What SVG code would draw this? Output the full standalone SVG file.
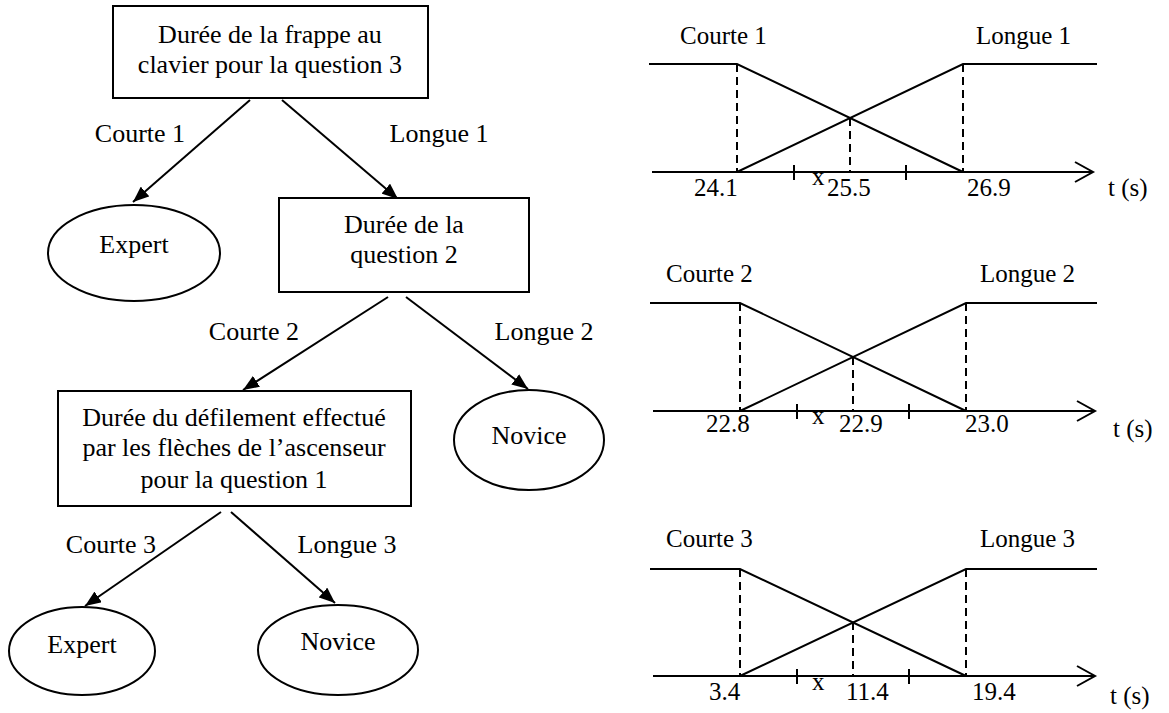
<svg xmlns="http://www.w3.org/2000/svg" width="1169" height="713" viewBox="0 0 1169 713">
  <style>
    text { font-family: 'Liberation Serif', 'Times New Roman', serif; fill: #000; }
    .t { font-size: 26px; text-anchor: middle; }
    .c { font-size: 25px; }
    .box { fill: #fff; stroke: #000; stroke-width: 2; }
    .edge { stroke: #000; stroke-width: 2; fill: none; marker-end: url(#arrow); }
    .ln { stroke: #000; stroke-width: 2; fill: none; }
    .dash { stroke: #000; stroke-width: 2; fill: none; stroke-dasharray: 8 5; }
  </style>
  <defs>
    <marker id="arrow" viewBox="0 0 16 13" refX="16" refY="6.5" markerWidth="16" markerHeight="13" markerUnits="userSpaceOnUse" orient="auto">
      <path d="M0,0 L16,6.5 L0,13 Z" fill="#000"/>
    </marker>
  </defs>
  <rect width="1169" height="713" fill="#fff"/>

  <!-- decision tree: connectors -->
  <g id="connectors">
    <line class="edge" x1="250" y1="100" x2="133" y2="202"/>
    <line class="edge" x1="282" y1="100" x2="398" y2="199"/>
    <line class="edge" x1="388" y1="297" x2="243" y2="390"/>
    <line class="edge" x1="406" y1="297" x2="528" y2="389"/>
    <line class="edge" x1="221" y1="512" x2="85" y2="606"/>
    <line class="edge" x1="231" y1="512" x2="335" y2="603"/>
    <text class="t" x="140" y="142">Courte 1</text>
    <text class="t" x="439" y="142">Longue 1</text>
    <text class="t" x="254" y="340">Courte 2</text>
    <text class="t" x="544" y="340">Longue 2</text>
    <text class="t" x="111" y="553">Courte 3</text>
    <text class="t" x="347" y="553">Longue 3</text>
  </g>

  <!-- decision tree: nodes -->
  <g id="q3">
    <rect class="box" x="113" y="6" width="315" height="92"/>
    <text class="t" x="270" y="43">Durée de la frappe au</text>
    <text class="t" x="270" y="73">clavier pour la question 3</text>
  </g>
  <g id="expert1">
    <ellipse class="box" cx="134" cy="253" rx="86" ry="48"/>
    <text class="t" x="134" y="253">Expert</text>
  </g>
  <g id="q2">
    <rect class="box" x="279" y="198" width="250" height="94"/>
    <text class="t" x="404" y="233">Durée de la</text>
    <text class="t" x="404" y="263">question 2</text>
  </g>
  <g id="novice1">
    <ellipse class="box" cx="529" cy="440" rx="75" ry="50"/>
    <text class="t" x="529" y="444">Novice</text>
  </g>
  <g id="q1">
    <rect class="box" x="58" y="391" width="353" height="115"/>
    <text class="t" x="234" y="426">Durée du défilement effectué</text>
    <text class="t" x="234" y="456">par les flèches de l’ascenseur</text>
    <text class="t" x="234" y="488">pour la question 1</text>
  </g>
  <g id="expert2">
    <ellipse class="box" cx="82" cy="651" rx="73" ry="44"/>
    <text class="t" x="82" y="653">Expert</text>
  </g>
  <g id="novice2">
    <ellipse class="box" cx="338" cy="650" rx="80" ry="45"/>
    <text class="t" x="338" y="650">Novice</text>
  </g>

  <!-- membership functions, question 3 -->
  <g id="chart1">
    <text class="c" x="680" y="44">Courte 1</text>
    <text class="c" x="976" y="44">Longue 1</text>
    <polyline class="ln" points="649,64 737,64 963,172"/>
    <polyline class="ln" points="737,172 963,64 1097,64"/>
    <line class="dash" x1="737" y1="64" x2="737" y2="172"/>
    <line class="dash" x1="963" y1="64" x2="963" y2="172"/>
    <line class="dash" x1="850" y1="118" x2="850" y2="172"/>
    <line class="ln" x1="652" y1="172" x2="1092" y2="172"/>
    <polyline class="ln" points="1075,162 1093,172 1075,182"/>
    <line class="ln" x1="794" y1="165" x2="794" y2="180"/>
    <line class="ln" x1="906" y1="165" x2="906" y2="180"/>
    <text class="c" x="694" y="196">24.1</text>
    <text class="c" x="812" y="185">x</text>
    <text class="c" x="827" y="196">25.5</text>
    <text class="c" x="967" y="196">26.9</text>
    <text class="c" x="1108" y="196">t (s)</text>
  </g>

  <!-- membership functions, question 2 -->
  <g id="chart2">
    <text class="c" x="666" y="282">Courte 2</text>
    <text class="c" x="980" y="282">Longue 2</text>
    <polyline class="ln" points="650,303 740,303 966,411"/>
    <polyline class="ln" points="740,411 966,303 1097,303"/>
    <line class="dash" x1="740" y1="303" x2="740" y2="411"/>
    <line class="dash" x1="966" y1="303" x2="966" y2="411"/>
    <line class="dash" x1="853" y1="357" x2="853" y2="411"/>
    <line class="ln" x1="653" y1="411" x2="1094" y2="411"/>
    <polyline class="ln" points="1077,401 1095,411 1077,421"/>
    <line class="ln" x1="797" y1="404" x2="797" y2="419"/>
    <line class="ln" x1="909" y1="404" x2="909" y2="419"/>
    <text class="c" x="706" y="432">22.8</text>
    <text class="c" x="812" y="424">x</text>
    <text class="c" x="839" y="432">22.9</text>
    <text class="c" x="965" y="432">23.0</text>
    <text class="c" x="1113" y="437">t (s)</text>
  </g>

  <!-- membership functions, question 1 -->
  <g id="chart3">
    <text class="c" x="666" y="547">Courte 3</text>
    <text class="c" x="980" y="547">Longue 3</text>
    <polyline class="ln" points="650,569 740,569 966,676"/>
    <polyline class="ln" points="740,676 966,569 1097,569"/>
    <line class="dash" x1="740" y1="569" x2="740" y2="676"/>
    <line class="dash" x1="966" y1="569" x2="966" y2="676"/>
    <line class="dash" x1="853" y1="622" x2="853" y2="676"/>
    <line class="ln" x1="653" y1="676" x2="1094" y2="676"/>
    <polyline class="ln" points="1077,666 1095,676 1077,686"/>
    <line class="ln" x1="797" y1="669" x2="797" y2="684"/>
    <line class="ln" x1="909" y1="669" x2="909" y2="684"/>
    <text class="c" x="709" y="700">3.4</text>
    <text class="c" x="812" y="690">x</text>
    <text class="c" x="846" y="700">11.4</text>
    <text class="c" x="972" y="700">19.4</text>
    <text class="c" x="1110" y="704">t (s)</text>
  </g>
</svg>
